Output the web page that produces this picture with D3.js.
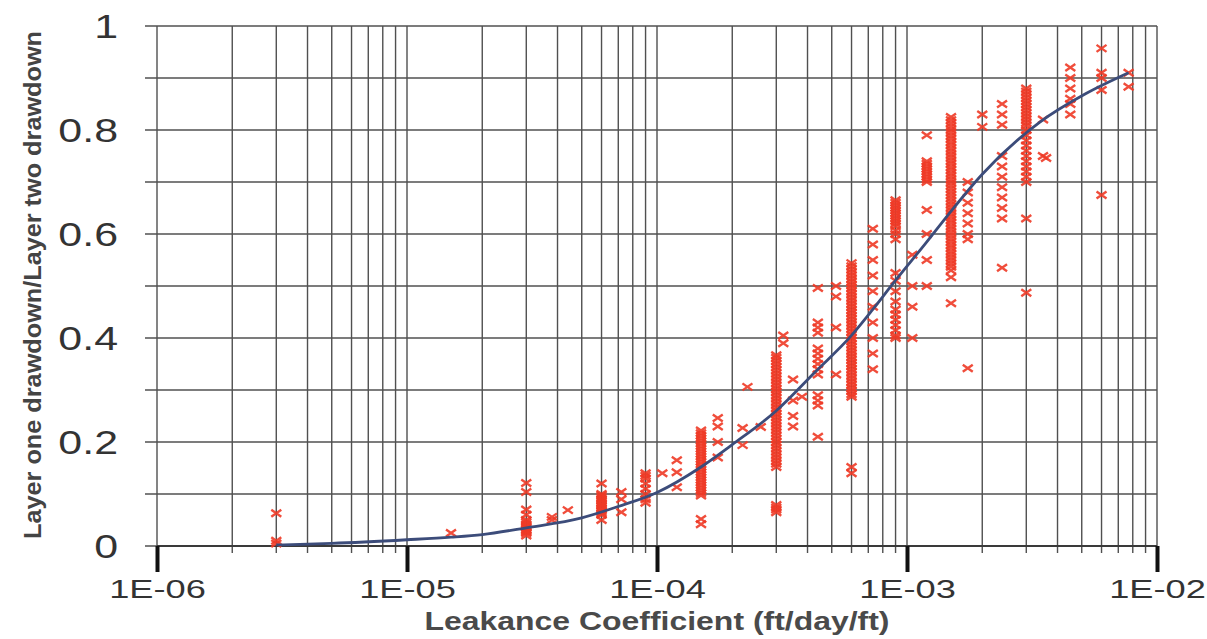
<!DOCTYPE html>
<html>
<head>
<meta charset="utf-8">
<script src="https://cdn.jsdelivr.net/npm/d3@7"></script>
<style>
  html, body { margin: 0; padding: 0; background: #fff; }
  svg { display: block; font-family: Arial, "Liberation Sans", sans-serif; }
</style>
</head>
<body>
<figure style="margin:0"></figure>
<script>

  // fitted type curve (leakance vs drawdown ratio)
  const curveK = [3e-6, 5e-6, 1e-5, 1.5e-5, 2e-5, 3e-5, 5e-5, 7e-5, 1e-4, 1.5e-4, 2e-4, 3e-4,
    4.3e-4, 6e-4, 7.3e-4, 8.8e-4, 1.2e-3, 1.45e-3, 2e-3, 3.4e-3, 5.2e-3, 7.7e-3]
  const curveRatio = [0.002, 0.005, 0.012, 0.017, 0.022, 0.035, 0.054, 0.076, 0.103, 0.152, 0.195, 0.26,
    0.335, 0.405, 0.455, 0.505, 0.585, 0.635, 0.715, 0.815, 0.87, 0.91]

  // observed ratios, grouped by leakance value
  const samples = [
    [3e-6, [0.063, 0.01, 0.005]],
    [1.5e-5, [0.025]],
    [3e-5, [0.121, 0.104, 0.07, 0.06, 0.05, 0.046, 0.042, 0.038, 0.035, 0.032, 0.03, 0.027, 0.025, 0.02]],
    [3.8e-5, [0.056, 0.05]],
    [4.4e-5, [0.069]],
    [6e-5, [0.12, 0.1, 0.097, 0.093, 0.09, 0.087, 0.083, 0.08, 0.077, 0.073, 0.07, 0.067, 0.063,
      0.06, 0.05]],
    [7.2e-5, [0.104, 0.09, 0.065]],
    [9e-5, [0.14, 0.135, 0.13, 0.12, 0.11, 0.1, 0.09, 0.083]],
    [1.05e-4, [0.14]],
    [1.2e-4, [0.165, 0.142, 0.113]],
    [1.5e-4, [0.222, 0.217, 0.212, 0.207, 0.202, 0.197, 0.192, 0.187, 0.182, 0.177, 0.172, 0.167,
      0.162, 0.157, 0.152, 0.147, 0.142, 0.137, 0.132, 0.127, 0.122, 0.117, 0.112, 0.107, 0.102,
      0.097, 0.052, 0.042]],
    [1.75e-4, [0.246, 0.23, 0.2, 0.17]],
    [2.2e-4, [0.227, 0.194]],
    [2.3e-4, [0.306]],
    [2.6e-4, [0.229]],
    [3e-4, [0.367, 0.362, 0.356, 0.35, 0.344, 0.338, 0.332, 0.326, 0.32, 0.314, 0.308, 0.302, 0.296,
      0.29, 0.284, 0.278, 0.272, 0.266, 0.26, 0.254, 0.248, 0.242, 0.236, 0.23, 0.224, 0.218, 0.212,
      0.206, 0.2, 0.194, 0.188, 0.182, 0.176, 0.17, 0.164, 0.158, 0.152, 0.079, 0.074, 0.07, 0.065]],
    [3.2e-4, [0.405, 0.39]],
    [3.5e-4, [0.32, 0.28, 0.25, 0.23]],
    [3.8e-4, [0.287]],
    [4.4e-4, [0.496, 0.43, 0.42, 0.41, 0.38, 0.37, 0.36, 0.35, 0.34, 0.33, 0.29, 0.28, 0.27, 0.21]],
    [5.2e-4, [0.5, 0.48, 0.42, 0.33]],
    [6e-4, [0.544, 0.538, 0.532, 0.526, 0.52, 0.514, 0.508, 0.502, 0.496, 0.49, 0.484, 0.478, 0.472,
      0.466, 0.46, 0.454, 0.448, 0.442, 0.436, 0.43, 0.424, 0.418, 0.412, 0.406, 0.4, 0.394, 0.388,
      0.382, 0.376, 0.37, 0.364, 0.358, 0.352, 0.346, 0.34, 0.334, 0.328, 0.322, 0.316, 0.31, 0.304,
      0.298, 0.292, 0.287, 0.152, 0.14]],
    [7.3e-4, [0.61, 0.58, 0.55, 0.52, 0.49, 0.46, 0.43, 0.4, 0.37, 0.34]],
    [9e-4, [0.665, 0.66, 0.655, 0.65, 0.645, 0.64, 0.635, 0.63, 0.625, 0.62, 0.615, 0.607, 0.6, 0.59,
      0.525, 0.51, 0.49, 0.47, 0.455, 0.445, 0.435, 0.425, 0.415, 0.405, 0.4]],
    [1.05e-3, [0.56, 0.5, 0.46, 0.4]],
    [1.2e-3, [0.79, 0.74, 0.735, 0.73, 0.725, 0.72, 0.715, 0.71, 0.705, 0.7, 0.646, 0.6, 0.55, 0.5]],
    [1.5e-3, [0.825, 0.819, 0.813, 0.807, 0.801, 0.795, 0.789, 0.783, 0.777, 0.771, 0.765, 0.759,
      0.753, 0.747, 0.741, 0.735, 0.729, 0.723, 0.717, 0.711, 0.705, 0.699, 0.693, 0.687, 0.681,
      0.675, 0.669, 0.663, 0.657, 0.651, 0.645, 0.639, 0.633, 0.627, 0.621, 0.615, 0.609, 0.603,
      0.597, 0.591, 0.585, 0.579, 0.573, 0.567, 0.561, 0.555, 0.549, 0.543, 0.537, 0.53, 0.517, 0.467]],
    [1.75e-3, [0.7, 0.68, 0.66, 0.64, 0.62, 0.6, 0.59, 0.342]],
    [2e-3, [0.83, 0.806]],
    [2.4e-3, [0.85, 0.83, 0.81, 0.75, 0.73, 0.71, 0.69, 0.67, 0.65, 0.63, 0.535]],
    [3e-3, [0.88, 0.874, 0.868, 0.862, 0.856, 0.85, 0.844, 0.838, 0.832, 0.826, 0.82, 0.814, 0.808,
      0.8, 0.79, 0.78, 0.77, 0.76, 0.75, 0.74, 0.73, 0.72, 0.71, 0.7, 0.63, 0.487]],
    [3.5e-3, [0.75, 0.82]],
    [3.6e-3, [0.746]],
    [4.5e-3, [0.92, 0.9, 0.88, 0.86, 0.85, 0.83]],
    [6e-3, [0.957, 0.91, 0.9, 0.877, 0.675]],
    [7.7e-3, [0.91, 0.883]]
  ]

  const decades = [1e-6, 1e-5, 1e-4, 1e-3, 1e-2]
  const decadeLabels = ["1E-06", "1E-05", "1E-04", "1E-03", "1E-02"]
  const ratioTicks = [0, 0.2, 0.4, 0.6, 0.8, 1]
  const ratioTickLabels = ["0", "0.2", "0.4", "0.6", "0.8", "1"]
  const ratioGrid = [0, 0.1, 0.2, 0.3, 0.4, 0.5, 0.6, 0.7, 0.8, 0.9, 1]

  ////////////////////////////////////
  ///////////// SVG Setup ////////////
  ////////////////////////////////////

  const svgWidth = 1207
  const svgHeight = 639
  const margin = { left: 157, right: 50, top: 26, bottom: 93 }
  const width = svgWidth - margin.left - margin.right
  const height = svgHeight - margin.top - margin.bottom

  const svg = d3.select('figure')
    .append('svg')
    .attr('width', svgWidth)
    .attr('height', svgHeight)
    .append('g')
    .attr('transform', `translate(${margin.left},${margin.top})`)

  ////////////////////////////////////
  ///////////// Scales ///////////////
  ////////////////////////////////////

  const x = d3.scaleLog().domain([1e-6, 1e-2]).range([0, width])
  const y = d3.scaleLinear().domain([0, 1]).range([height, 0])

  ////////////////////////////////////
  ///////////// Grid /////////////////
  ////////////////////////////////////

  svg.append('g')
    .selectAll('line')
    .data(x.ticks())
    .enter().append('line')
    .attr('x1', d => x(d)).attr('x2', d => x(d))
    .attr('y1', 0).attr('y2', height + 7)
    .attr('stroke', '#505050')
    .attr('stroke-width', 1.4)

  svg.append('g')
    .selectAll('line')
    .data(ratioGrid)
    .enter().append('line')
    .attr('x1', -12).attr('x2', width)
    .attr('y1', d => y(d)).attr('y2', d => y(d))
    .attr('stroke', '#505050')
    .attr('stroke-width', 1.4)

  // zero line a bit darker
  svg.append('line')
    .attr('x1', 0).attr('x2', width)
    .attr('y1', y(0)).attr('y2', y(0))
    .attr('stroke', '#3a3a3a')
    .attr('stroke-width', 2)

  ////////////////////////////////////
  ///////////// Axes /////////////////
  ////////////////////////////////////

  const xAxis = svg.append('g')
    .attr('transform', `translate(0,${height})`)
    .call(d3.axisBottom(x)
      .tickValues(decades)
      .tickSize(26)
      .tickPadding(0)
      .tickFormat((d, i) => decadeLabels[i]))
  xAxis.select('.domain').remove()
  xAxis.selectAll('.tick line')
    .attr('stroke', '#111')
    .attr('stroke-width', 4)
  xAxis.selectAll('.tick text')
    .attr('y', 52)
    .attr('dy', 0)
    .attr('transform', 'scale(1.45,1)')
    .attr('fill', '#333')
    .style('font-size', '25px')

  const yAxis = svg.append('g')
    .call(d3.axisLeft(y)
      .tickValues(ratioTicks)
      .tickSize(0)
      .tickFormat((d, i) => ratioTickLabels[i]))
  yAxis.select('.domain').remove()
  yAxis.selectAll('.tick text')
    .attr('x', -39 / 1.3)
    .attr('dy', '0.36em')
    .attr('transform', 'scale(1.3,1)')
    .attr('fill', '#333')
    .style('font-size', '33px')

  ////////////////////////////////////
  ///////////// Marks ////////////////
  ////////////////////////////////////

  const points = samples.flatMap(([k, list]) => list.map(r => ({ k, r })))

  svg.append('g')
    .selectAll('path')
    .data(points)
    .enter().append('path')
    .attr('transform', d => `translate(${x(d.k)},${y(d.r)})`)
    .attr('d', 'M-5,-3.5L5,3.5M-5,3.5L5,-3.5')
    .attr('stroke', '#ee3a26')
    .attr('stroke-width', 2.4)
    .attr('stroke-opacity', 0.9)
    .attr('fill', 'none')

  const line = d3.line()
    .x(d => x(d[0]))
    .y(d => y(d[1]))
    .curve(d3.curveMonotoneX)

  svg.append('path')
    .datum(curveK.map((k, i) => [k, curveRatio[i]]))
    .attr('d', line)
    .attr('fill', 'none')
    .attr('stroke', '#3c4c7a')
    .attr('stroke-width', 2.8)

  ////////////////////////////////////
  ///////////// Titles ///////////////
  ////////////////////////////////////

  svg.append('text')
    .attr('x', 657 - margin.left)
    .attr('y', 630 - margin.top)
    .attr('text-anchor', 'middle')
    .attr('textLength', 465)
    .attr('lengthAdjust', 'spacingAndGlyphs')
    .style('font-size', '25px')
    .style('font-weight', 'bold')
    .style('fill', '#4a4a4a')
    .text('Leakance Coefficient (ft/day/ft)')

  svg.append('text')
    .attr('transform', `translate(${41 - margin.left},${285 - margin.top}) rotate(-90)`)
    .attr('text-anchor', 'middle')
    .attr('textLength', 508)
    .attr('lengthAdjust', 'spacingAndGlyphs')
    .style('font-size', '24px')
    .style('font-weight', 'bold')
    .style('fill', '#444')
    .text('Layer one drawdown/Layer two drawdown')

</script>
</body>
</html>
